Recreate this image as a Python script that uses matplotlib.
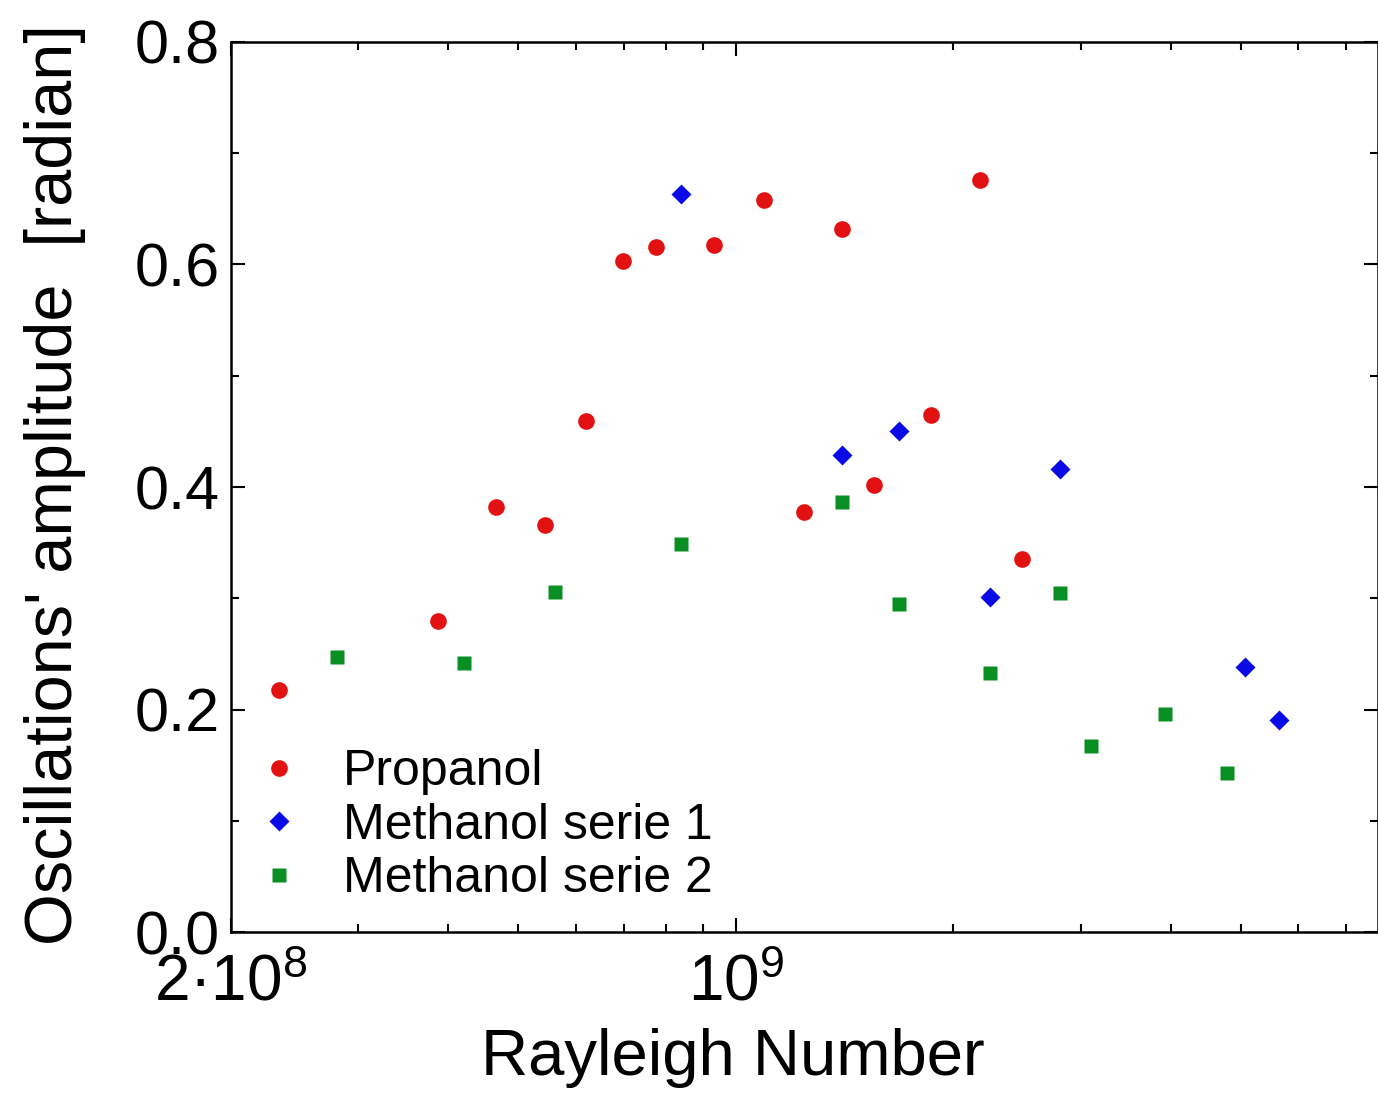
import matplotlib
matplotlib.use("Agg")
import matplotlib.pyplot as plt
from matplotlib.ticker import FixedLocator, FixedFormatter, LogLocator, NullFormatter, MultipleLocator

plt.rcParams['font.family'] = ['Liberation Sans', 'DejaVu Sans']
plt.rcParams['mathtext.fontset'] = 'custom'
plt.rcParams['mathtext.rm'] = 'Liberation Sans'
plt.rcParams['mathtext.it'] = 'Liberation Sans:italic'
plt.rcParams['mathtext.bf'] = 'Liberation Sans:bold'

# Rayleigh number vs oscillation amplitude
propanol_ra = [2.33e8, 3.87e8, 4.66e8, 5.44e8, 6.20e8, 6.98e8, 7.76e8, 9.33e8,
               1.094e9, 1.244e9, 1.404e9, 1.555e9, 1.864e9, 2.18e9, 2.485e9]
propanol_amp = [0.218, 0.280, 0.382, 0.366, 0.459, 0.603, 0.616, 0.617,
                0.658, 0.378, 0.632, 0.402, 0.465, 0.676, 0.335]

meth1_ra = [8.40e8, 1.404e9, 1.684e9, 2.25e9, 2.81e9, 5.06e9, 5.64e9]
meth1_amp = [0.663, 0.429, 0.450, 0.301, 0.416, 0.238, 0.191]

meth2_ra = [2.80e8, 4.20e8, 5.62e8, 8.40e8, 1.404e9, 1.684e9, 2.25e9,
            2.81e9, 3.10e9, 3.93e9, 4.78e9]
meth2_amp = [0.247, 0.242, 0.306, 0.349, 0.387, 0.295, 0.233,
             0.305, 0.167, 0.196, 0.143]

x_ticks = [2e8, 1e9]
x_ticklabels = ['2·10$^8$', '10$^9$']

fig = plt.figure(figsize=(13.78, 10.93), dpi=100)
ax = fig.add_axes([0.1676, 0.147, 0.8324, 0.8148])

ax.plot(propanol_ra, propanol_amp, 'o', color='#e31212', ms=12, mec='none', label='Propanol')
ax.plot(meth1_ra, meth1_amp, 'D', color='#0a0ae6', ms=10, mec='none', label='Methanol serie 1')
ax.plot(meth2_ra, meth2_amp, 's', color='#0a8f25', ms=10, mec='none', label='Methanol serie 2')

ax.set_xscale('log')
ax.set_xlim(2e8, 7.74e9)
ax.set_ylim(0, 0.8)

ax.xaxis.set_major_locator(FixedLocator(x_ticks))
ax.xaxis.set_major_formatter(FixedFormatter(x_ticklabels))
ax.xaxis.set_minor_locator(LogLocator(base=10, subs=range(2, 10)))
ax.xaxis.set_minor_formatter(NullFormatter())
ax.yaxis.set_major_locator(MultipleLocator(0.2))
ax.yaxis.set_minor_locator(MultipleLocator(0.1))
ax.yaxis.set_major_formatter(plt.FuncFormatter(lambda v, p: f'{v:.1f}'))

ax.tick_params(which='both', direction='in', top=True, right=True, width=1.5)
ax.tick_params(which='major', length=10)
ax.tick_params(which='minor', length=6)
ax.tick_params(axis='y', which='major', labelsize=44, pad=8)
ax.tick_params(axis='x', which='major', labelsize=46, pad=15)
for s in ax.spines.values():
    s.set_linewidth(1.8)

ax.set_xlabel('Rayleigh Number', fontsize=47)
ax.xaxis.set_label_coords(0.4377, -0.107)
ax.set_ylabel("Oscillations' amplitude  [radian]", fontsize=48)
ax.yaxis.set_label_coords(-0.126, 0.503)

ax.legend(loc='lower left', bbox_to_anchor=(0.0201, 0.034), frameon=False,
          fontsize=36, numpoints=1, handlelength=1.0, handletextpad=0.78,
          borderpad=0, borderaxespad=0, labelspacing=0.15)

fig.savefig('out.png', dpi=100)
